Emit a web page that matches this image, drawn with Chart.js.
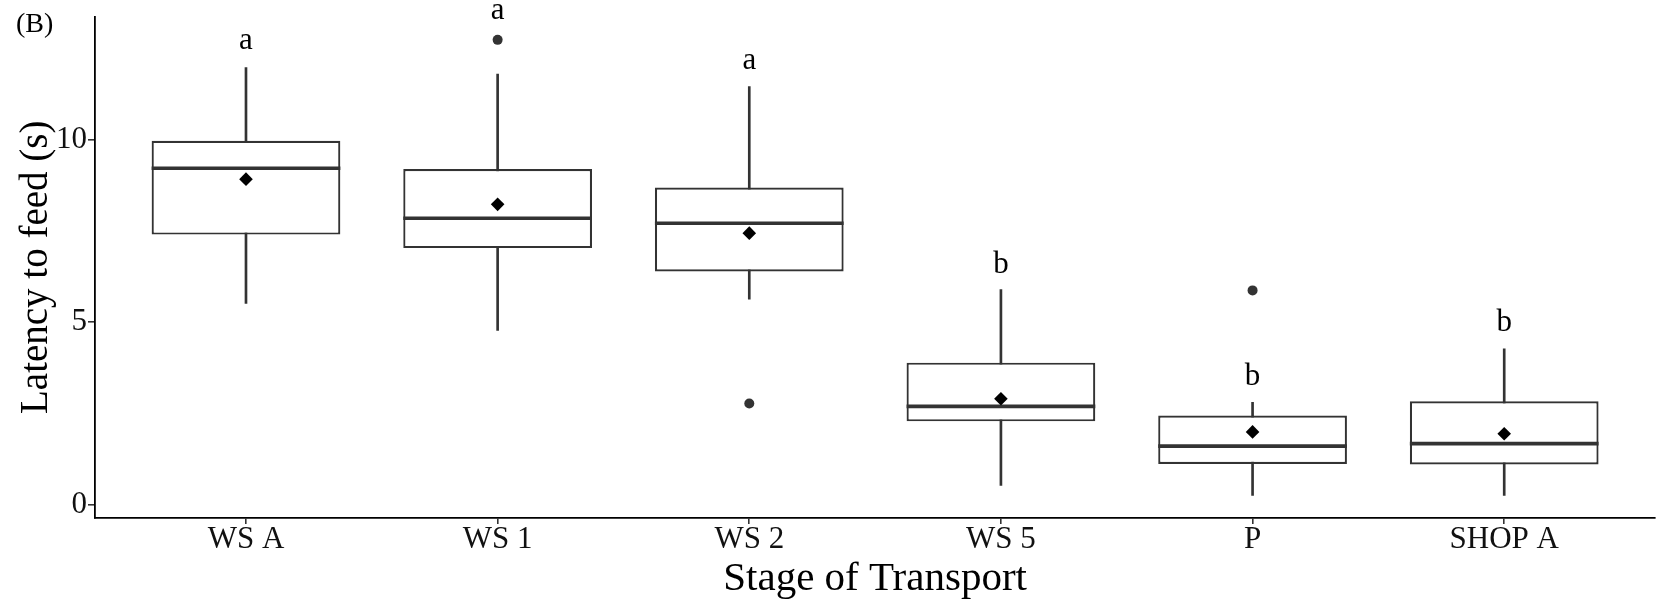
<!DOCTYPE html>
<html>
<head>
<meta charset="utf-8">
<title>Latency to feed by stage of transport</title>
<script src="https://cdn.jsdelivr.net/npm/chart.js@4.4.0/dist/chart.umd.min.js"></script>
<style>
  body { margin: 0; background: #fff; }
  #wrap { width: 1662px; height: 604px; position: relative; }
</style>
</head>
<body>
<div id="wrap"><canvas id="latencyChart"></canvas></div>
<script>
// stages of transport along the x axis
const stages = ["WS A", "WS 1", "WS 2", "WS 5", "P", "SHOP A"];

// box plot summary per stage, latency in seconds
const whiskerLow = [5.51, 4.77, 5.63, 0.52, 0.25, 0.25];
const lowerQuartile = [7.40, 7.03, 6.39, 2.28, 1.11, 1.10];
const medians = [9.22, 7.85, 7.71, 2.69, 1.60, 1.67];
const upperQuartile = [9.97, 9.20, 8.69, 3.89, 2.44, 2.83];
const whiskerHigh = [11.98, 11.80, 11.46, 5.89, 2.80, 4.27];
const means = [8.92, 8.23, 7.44, 2.90, 1.99, 1.94];

// single points outside the whiskers
const outlierStage = ["WS 1", "WS 2", "P"];
const outlierValue = [12.74, 2.77, 5.87];

// post-hoc group letters and the height they are written at
const groupLetters = ["a", "a", "a", "b", "b", "b"];
const letterHeight = [12.48, 13.30, 11.93, 6.36, 3.27, 4.76];

const yTicks = [0, 5, 10];

const SERIF = "'Liberation Serif', 'Times New Roman', serif";
const BOX_WIDTH = 0.75; // fraction of one stage slot
const INK = "#333333";

// median segments, one per box, split by null gaps
const medianSegments = [];
medians.forEach((m, i) => {
  medianSegments.push({ x: i + 1 - BOX_WIDTH / 2, y: m });
  medianSegments.push({ x: i + 1 + BOX_WIDTH / 2, y: m });
  medianSegments.push({ x: i + 1.5, y: null });
});

// letters over each box plus the panel tag
const letterPlugin = {
  id: "groupLetters",
  afterDatasetsDraw(chart) {
    const { ctx, scales: { x, y } } = chart;
    ctx.save();
    ctx.fillStyle = "#000";
    ctx.font = "31px " + SERIF;
    ctx.textAlign = "center";
    ctx.textBaseline = "alphabetic";
    groupLetters.forEach((letter, i) => {
      ctx.fillText(letter, x.getPixelForValue(i + 1), y.getPixelForValue(letterHeight[i]));
    });
    ctx.font = "28px " + SERIF;
    ctx.textAlign = "left";
    ctx.fillText("(B)", 16, 32);
    ctx.restore();
  }
};

const ctx = document.getElementById("latencyChart");
const latencyChart = new Chart(ctx, {
  type: "scatter",
  data: {
    datasets: [
      {
        type: "scatter",
        label: "Mean",
        data: means.map((m, i) => ({ x: i + 1, y: m })),
        pointStyle: "rectRot",
        pointRadius: 6.8,
        backgroundColor: "#000",
        borderWidth: 0,
      },
      {
        type: "scatter",
        label: "Outliers",
        data: outlierStage.map((s, i) => ({ x: stages.indexOf(s) + 1, y: outlierValue[i] })),
        pointStyle: "circle",
        pointRadius: 5,
        backgroundColor: INK,
        borderWidth: 0,
      },
      {
        type: "line",
        label: "Median",
        data: medianSegments,
        borderColor: INK,
        borderWidth: 3.6,
        borderCapStyle: "butt",
        pointRadius: 0,
        spanGaps: false,
      },
      {
        type: "bar",
        label: "Interquartile range",
        data: stages.map((_, i) => ({ x: i + 1, y: [lowerQuartile[i], upperQuartile[i]] })),
        backgroundColor: "#fff",
        borderColor: INK,
        borderWidth: 2.2,
        borderSkipped: false,
        grouped: false,
        barPercentage: BOX_WIDTH,
        categoryPercentage: 1,
      },
      {
        type: "bar",
        label: "Whiskers",
        data: stages.map((_, i) => ({ x: i + 1, y: [whiskerLow[i], whiskerHigh[i]] })),
        backgroundColor: INK,
        borderWidth: 0,
        barThickness: 2,
        grouped: false,
      },
    ],
  },
  options: {
    responsive: true,
    maintainAspectRatio: false,
    animation: false,
    events: [],
    layout: { padding: { top: 16, right: 6, bottom: 0, left: 0 } },
    plugins: {
      legend: { display: false },
      tooltip: { enabled: false },
    },
    scales: {
      x: {
        type: "linear",
        min: 0.4,
        max: 6.6,
        bounds: "data",
        offset: false,
        afterBuildTicks: (scale) => {
          scale.ticks = stages.map((_, i) => ({ value: i + 1 }));
        },
        afterFit: (scale) => {
          scale.height = 86;
        },
        ticks: {
          callback: (value) => stages[value - 1],
          font: { family: SERIF, size: 31, lineHeight: 1 },
          color: "#111",
          padding: 0,
          maxRotation: 0,
          autoSkip: false,
        },
        grid: {
          drawOnChartArea: false,
          drawTicks: true,
          tickLength: 6,
          color: INK,
          lineWidth: 1.6,
          offset: false,
        },
        border: { display: true, color: "#000", width: 1.8 },
        title: {
          display: true,
          text: "Stage of Transport",
          font: { family: SERIF, size: 41, lineHeight: 1.2 },
          color: "#000",
          padding: { top: 0, bottom: 0 },
        },
      },
      y: {
        type: "linear",
        min: -0.37,
        max: 13.38,
        bounds: "data",
        afterBuildTicks: (scale) => {
          scale.ticks = yTicks.map((v) => ({ value: v }));
        },
        afterFit: (scale) => {
          scale.width = 95;
        },
        ticks: {
          font: { family: SERIF, size: 31, lineHeight: 1 },
          color: "#111",
          padding: 1,
        },
        grid: {
          drawOnChartArea: false,
          drawTicks: true,
          tickLength: 7,
          color: INK,
          lineWidth: 1.6,
        },
        border: { display: true, color: "#000", width: 1.8 },
        title: {
          display: true,
          text: "Latency to feed (s)",
          font: { family: SERIF, size: 39, lineHeight: 1.2 },
          color: "#000",
          padding: { top: 13, bottom: 0 },
        },
      },
    },
  },
  plugins: [letterPlugin],
});
</script>
</body>
</html>
